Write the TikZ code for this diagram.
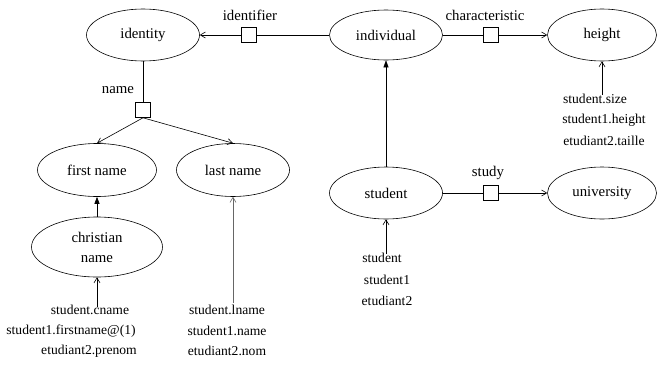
\documentclass[tikz,border=0pt]{standalone}
\usepackage{fontspec}
\setmainfont{Liberation Serif}
\usetikzlibrary{shapes.geometric,arrows.meta}
\tikzset{
  ell/.style={ellipse, draw, line width=0.6pt, inner sep=0pt, minimum height=52pt, font=\fontsize{14.8}{16}\selectfont, align=center},
  sq/.style={rectangle, draw, line width=0.6pt, minimum width=15pt, minimum height=15pt, inner sep=0pt},
  lab/.style={font=\fontsize{14.8}{16}\selectfont, inner sep=1pt},
  lst/.style={font=\fontsize{13.6}{15}\selectfont, inner sep=1pt},
  conn/.style={line width=0.6pt},
  opena/.style={line width=0.6pt, -{Straight Barb[length=5pt,width=6pt]}},
  solida/.style={line width=0.6pt, -{Triangle[length=7pt,width=5pt]}}
}
\begin{document}
\begin{tikzpicture}[x=1pt,y=-1pt]
\useasboundingbox (0,0) rectangle (658,367);
% ellipses
\node[ell, minimum width=113pt] (identity) at (143,35) {identity};
\node[ell, minimum width=113pt, minimum height=50pt] (individual) at (386,35) {individual};
\node[ell, minimum width=109pt] (height) at (602,35) {height};
\node[ell, minimum width=119pt, minimum height=53pt] (first) at (97,170) {first name};
\node[ell, minimum width=113pt, minimum height=53pt] (last) at (233,170) {last name};
\node[ell, minimum width=131pt, minimum height=60pt, font=\fontsize{14.8}{20}\selectfont] (christian) at (97,247) {christian\\name};
\node[ell, minimum width=113pt] (student) at (386,193) {student};
\node[ell, minimum width=109pt] (university) at (602,193) {university};
% squares
\node[sq] (sqid) at (249,35) {};
\node[sq] (sqch) at (491,35) {};
\node[sq] (sqname) at (143,110) {};
\node[sq] (sqst) at (491,193) {};
% edge labels
\node[lab] (lid) at (250,15) {identifier};
\node[lab] (lch) at (485,15) {characteristic};
\node[lab] (lname) at (118,90) {name};
\node[lab] (lst) at (488,173) {study};
% lists
\node[lst] (c1) at (90,310) {student.cname};
\node[lst] (c2) at (71,331) {student1.firstname@(1)};
\node[lst] (c3) at (89,351) {etudiant2.prenom};
\node[lst] (n1) at (227,310) {student.lname};
\node[lst] (n2) at (227,331) {student1.name};
\node[lst] (n3) at (227,351) {etudiant2.nom};
\node[lst] (h1) at (595,99) {student.size};
\node[lst] (h2) at (604,120) {student1.height};
\node[lst] (h3) at (604,141) {etudiant2.taille};
\node[lst] (s1) at (382,258) {student};
\node[lst] (s2) at (387,280) {student1};
\node[lst] (s3) at (387,301) {etudiant2};
% connectors
\draw[conn] (individual) -- (sqid);
\draw[opena] (sqid) -- (identity);
\draw[conn] (individual) -- (sqch);
\draw[opena] (sqch) -- (height);
\draw[conn] (student) -- (sqst);
\draw[opena] (sqst) -- (university);
\draw[conn] (identity) -- (sqname);
\draw[opena] (sqname.south) -- (first.north);
\draw[opena] (sqname.south) -- (last.north);
\draw[solida] (christian) -- (first);
\draw[solida] (student) -- (individual);
\draw[opena] ([yshift=-3pt]c1.north -| christian.south) -- (christian.south);
\draw[opena, draw=black!60] ([yshift=1pt]n1.north -| last.south) -- (last.south);
\draw[opena] ([yshift=-2pt]h1.north -| height.south) -- (height.south);
\draw[opena] ([yshift=-2pt]s1.north -| student.south) -- (student.south);
\end{tikzpicture}
\end{document}
